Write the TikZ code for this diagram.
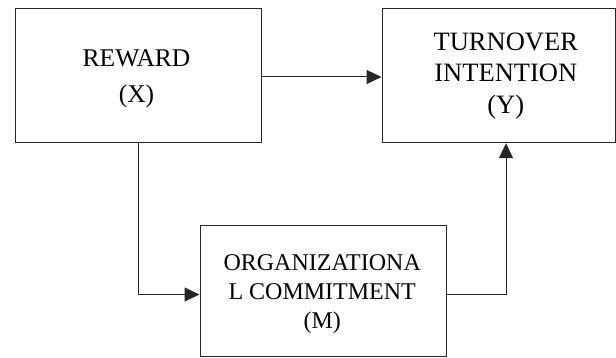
\documentclass[tikz,border=0pt]{standalone}
\usepackage{fontspec}
\setmainfont{Liberation Serif}
\usetikzlibrary{arrows.meta}
\begin{document}
\begin{tikzpicture}[x=1pt,y=1pt,
  box/.style={draw=black!85,line width=1pt,inner sep=0pt},
  lbl/.style={inner sep=0pt,align=center,text=black},
  arr/.style={draw=black!85,line width=1pt,-{Triangle[length=15pt,width=14pt]}}]
\useasboundingbox (0,0) rectangle (616,358);
\node[box,minimum width=246pt,minimum height=134.2pt] (rew) at (138,282.4) {};
\node[box,minimum width=233pt,minimum height=134.2pt] (turn) at (498.5,282.4) {};
\node[box,minimum width=246pt,minimum height=131pt] (org) at (323,66.5) {};
\node[lbl,font=\fontsize{25.5}{36}\selectfont] (rewt) at (136.5,278.8) {REWARD\\(X)};
\node[lbl,font=\fontsize{26.5}{31.7}\selectfont] (turnt) at (505.8,282.2) {TURNOVER\\INTENTION\\(Y)};
\node[lbl,font=\fontsize{24}{29.3}\selectfont] (orgt) at (322.2,64) {ORGANIZATIONA\\L COMMITMENT\\(M)};
\draw[arr] ([yshift=-1.4pt]rew.east) -- ([yshift=-1.4pt]rew.east -| turn.west);
\draw[arr] (rew.south) |- ([yshift=-3pt]org.west);
\draw[arr] ([yshift=-3pt]org.east) -| ([xshift=7.5pt]turn.south);
\end{tikzpicture}
\end{document}
